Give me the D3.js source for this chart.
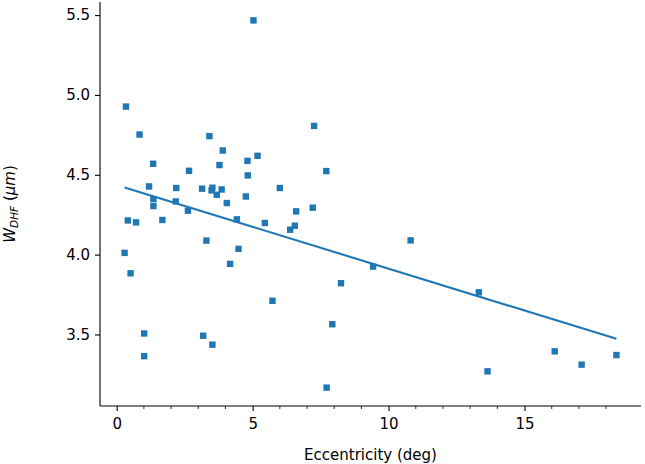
<!DOCTYPE html>
<html>
<head>
<meta charset="utf-8">
<script src="https://cdn.jsdelivr.net/npm/d3@7"></script>
<style>
  body { margin: 0; background: #fff; }
  svg text { font-family: "DejaVu Sans", sans-serif; }
</style>
</head>
<body>
<svg width="645" height="464"></svg>
<script>
// eccentricity (deg) and W_DHF (um)
var ecc = [5.03, 0.34, 0.84, 3.41, 3.90, 1.34, 3.78, 4.81, 5.18, 2.66,
           4.82, 1.19, 2.19, 3.14, 3.52, 3.49, 3.86, 3.68, 6.00, 4.75,
           1.35, 2.17, 1.35, 4.05, 2.62, 0.41, 0.71, 1.68, 4.42, 5.45,
           6.60, 6.55, 6.38, 3.30, 4.48, 0.29, 4.17, 0.51, 5.73, 1.01,
           3.18, 3.52, 1.01, 7.21, 10.81, 9.43, 8.25, 7.93, 7.72, 13.32,
           7.26, 7.71, 13.64, 16.11, 17.10, 18.38];
var wdhf = [5.467, 4.927, 4.752, 4.742, 4.652, 4.569, 4.561, 4.587, 4.619, 4.525,
            4.496, 4.427, 4.417, 4.413, 4.419, 4.402, 4.408, 4.375, 4.417, 4.364,
            4.348, 4.333, 4.304, 4.323, 4.275, 4.214, 4.202, 4.217, 4.221, 4.198,
            4.271, 4.181, 4.156, 4.088, 4.036, 4.011, 3.942, 3.883, 3.711, 3.506,
            3.492, 3.436, 3.364, 4.294, 4.089, 3.925, 3.821, 3.564, 3.167, 3.764,
            4.806, 4.523, 3.269, 3.394, 3.311, 3.371];

// fitted line as drawn in the figure
var fitIntercept = 4.436;
var fitSlope = -0.0524;

var xTicks = [0, 5, 10, 15];
var yTicks = [3.5, 4.0, 4.5, 5.0, 5.5];

var svg = d3.select("svg");
var mLeft = 100, mRight = 641, mTop = 2, mBottom = 406;
var blue = "#1f77b4";
var fs = 15;

var points = ecc.map(function(e, i) { return {x: e, y: wdhf[i]}; });

// matplotlib style 5% margins
var xExt = d3.extent(ecc), yExt = d3.extent(wdhf);
var xPad = (xExt[1] - xExt[0]) * 0.05, yPad = (yExt[1] - yExt[0]) * 0.05;

var x = d3.scaleLinear()
    .domain([xExt[0] - xPad, xExt[1] + xPad])
    .range([mLeft, mRight]);
var y = d3.scaleLinear()
    .domain([yExt[0] - yPad, yExt[1] + yPad])
    .range([mBottom, mTop]);

var xAxis = svg.append("g")
    .attr("transform", "translate(0," + mBottom + ")")
    .call(d3.axisBottom(x).tickValues(xTicks).tickFormat(d3.format("d"))
      .tickSize(5).tickPadding(7));

var minor = d3.range(0, 19).filter(function(v) { return v % 5 != 0; });
xAxis.selectAll(".minor")
    .data(minor)
  .enter().append("line")
    .attr("class", "minor")
    .attr("x1", function(d) { return x(d); })
    .attr("x2", function(d) { return x(d); })
    .attr("y1", 0).attr("y2", 3)
    .attr("stroke", "#000").attr("stroke-width", 0.8);

var yAxis = svg.append("g")
    .attr("transform", "translate(" + mLeft + ",0)")
    .call(d3.axisLeft(y).tickValues(yTicks).tickFormat(d3.format(".1f"))
      .tickSize(5).tickPadding(5));

xAxis.select(".domain").attr("d", "M" + mLeft + ",0H" + mRight);
yAxis.select(".domain").attr("d", "M0," + mTop + "V" + mBottom);
[xAxis, yAxis].forEach(function(a) {
  a.select(".domain").attr("stroke-width", 1.1);
  a.selectAll(".tick line").attr("stroke-width", 1.1);
  a.selectAll("text").attr("font-size", fs).attr("fill", "#000")
      .attr("font-family", "DejaVu Sans");
});

// fit line
svg.append("line")
    .attr("x1", x(xExt[0])).attr("y1", y(fitIntercept + fitSlope * xExt[0]))
    .attr("x2", x(xExt[1])).attr("y2", y(fitIntercept + fitSlope * xExt[1]))
    .attr("stroke", blue)
    .attr("stroke-width", 2.1);

var ms = 6.4;
svg.append("g")
  .selectAll("rect")
  .data(points)
  .enter().append("rect")
    .attr("x", function(d) { return x(d.x) - ms / 2; })
    .attr("y", function(d) { return y(d.y) - ms / 2; })
    .attr("width", ms).attr("height", ms)
    .attr("fill", blue);

svg.append("text")
    .attr("x", (mLeft + mRight) / 2)
    .attr("y", 460)
    .attr("text-anchor", "middle")
    .attr("font-size", fs)
    .text("Eccentricity (deg)");

var yl = svg.append("text")
    .attr("transform", "translate(15," + ((mTop + mBottom) / 2) + ") rotate(-90)")
    .attr("text-anchor", "middle")
    .attr("font-size", fs);
yl.append("tspan").attr("font-style", "italic").text("W");
yl.append("tspan").attr("font-style", "italic").attr("font-size", 10.5)
    .attr("dy", 3).text("DHF");
yl.append("tspan").attr("dy", -3).text(" (");
yl.append("tspan").attr("font-style", "italic").text("\u03bcm");
yl.append("tspan").text(")");
</script>
</body>
</html>
